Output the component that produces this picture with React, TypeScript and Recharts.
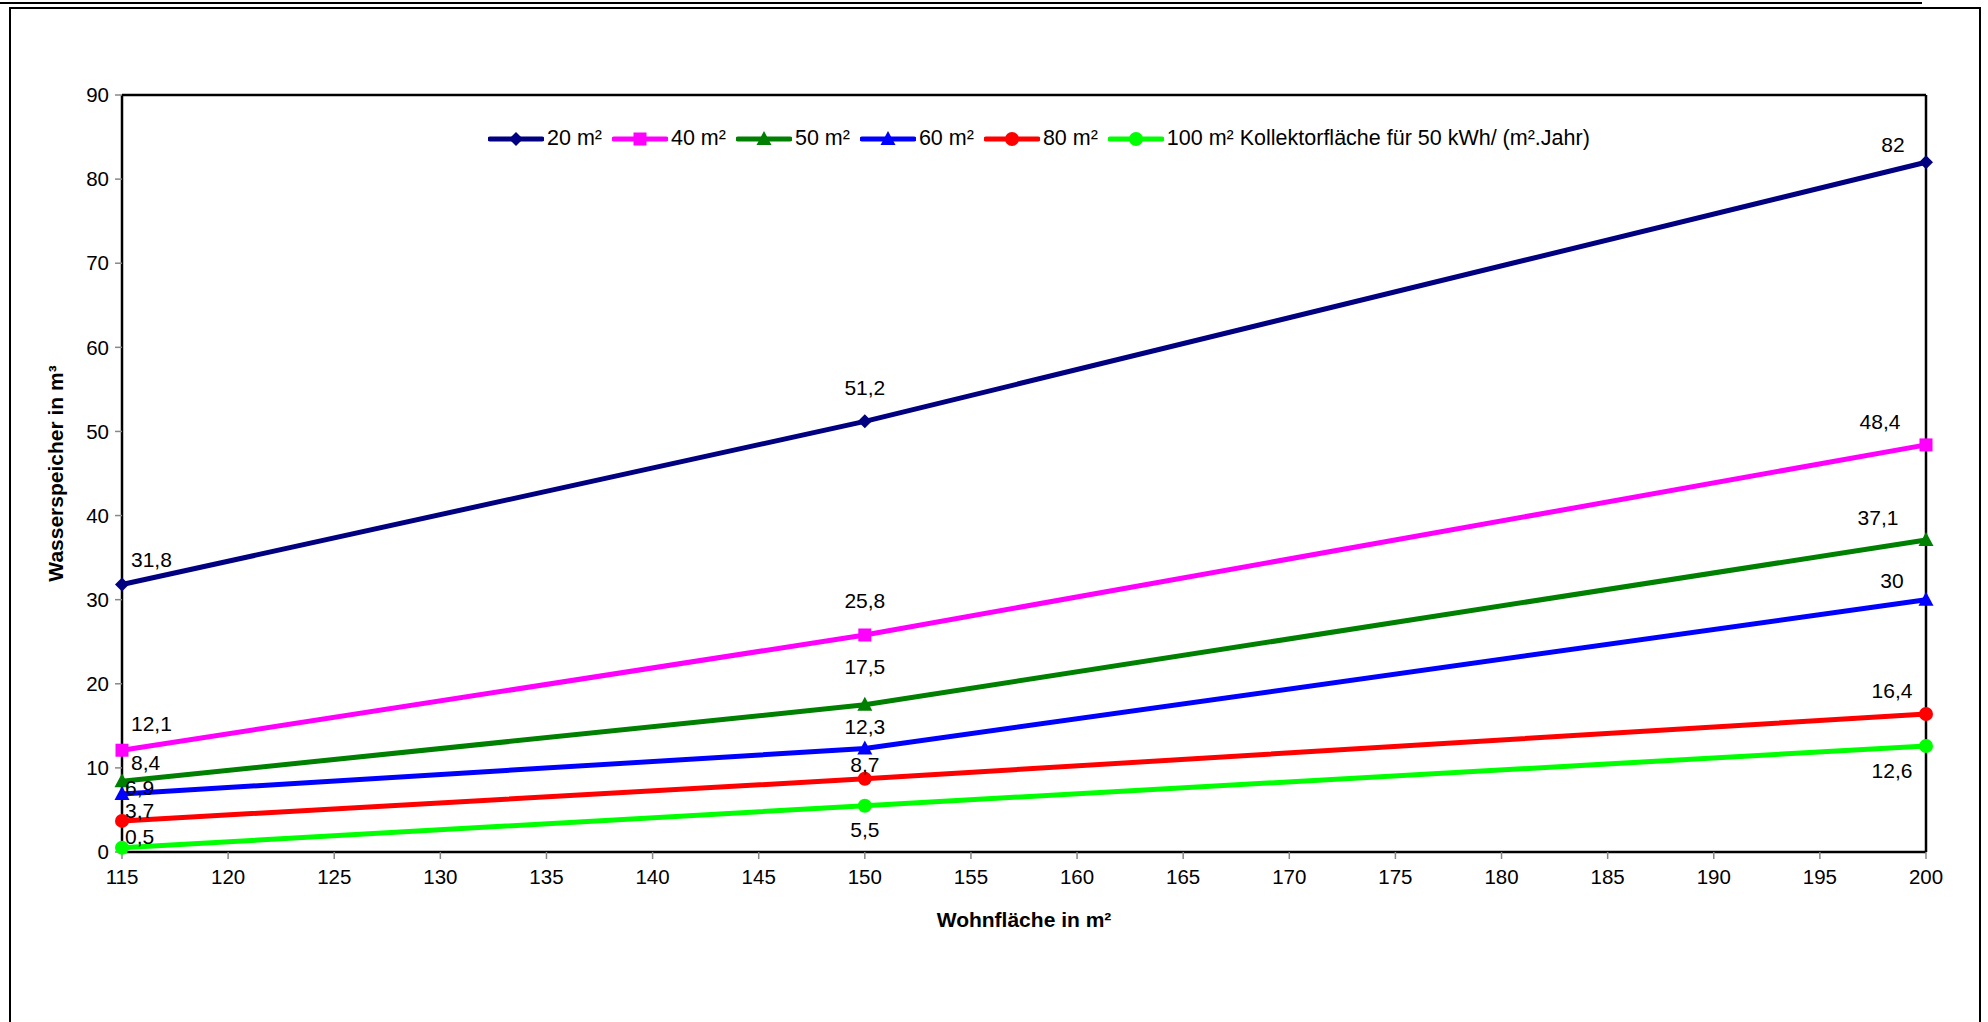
import React from "react"
import { LineChart, Line, XAxis, YAxis, ReferenceLine, LabelList } from "recharts"

// Wohnfläche in m²
const areas = [115, 150, 200]
const xTicks = [115, 120, 125, 130, 135, 140, 145, 150, 155, 160, 165, 170, 175, 180, 185, 190, 195, 200]
const yTicks = [0, 10, 20, 30, 40, 50, 60, 70, 80, 90]

// Wasserspeicher in m³ per Kollektorfläche
const s20 = [31.8, 51.2, 82]
const s40 = [12.1, 25.8, 48.4]
const s50 = [8.4, 17.5, 37.1]
const s60 = [6.9, 12.3, 30]
const s80 = [3.7, 8.7, 16.4]
const s100 = [0.5, 5.5, 12.6]

const seriesNames = ["20 m²", "40 m²", "50 m²", "60 m²", "80 m²", "100 m² Kollektorfläche für 50 kWh/ (m².Jahr)"]

const data = areas.map((x, i) => ({
  x,
  s20: s20[i],
  s40: s40[i],
  s50: s50[i],
  s60: s60[i],
  s80: s80[i],
  s100: s100[i],
}))

const FONT = "'Liberation Sans', Arial, sans-serif"

type Shape = "diamond" | "square" | "triangle" | "circle"
type Off = [number, number, "start" | "middle"]

const series: { key: string; name: string; color: string; shape: Shape; offs: Off[] }[] = [
  { key: "s20", name: seriesNames[0], color: "#000080", shape: "diamond", offs: [[9, -25, "start"], [0, -34, "middle"], [-33, -18, "middle"]] },
  { key: "s40", name: seriesNames[1], color: "#FF00FF", shape: "square", offs: [[9, -27, "start"], [0, -34, "middle"], [-46, -23, "middle"]] },
  { key: "s50", name: seriesNames[2], color: "#008000", shape: "triangle", offs: [[9, -19, "start"], [0, -38, "middle"], [-48, -22, "middle"]] },
  { key: "s60", name: seriesNames[3], color: "#0000FF", shape: "triangle", offs: [[3, -6, "start"], [0, -22, "middle"], [-34, -19, "middle"]] },
  { key: "s80", name: seriesNames[4], color: "#FF0000", shape: "circle", offs: [[3, -10, "start"], [0, -14, "middle"], [-34, -24, "middle"]] },
  { key: "s100", name: seriesNames[5], color: "#00FF00", shape: "circle", offs: [[3, -11, "start"], [0, 24, "middle"], [-34, 24, "middle"]] },
]

function Marker({ cx, cy, shape, color }: { cx: number; cy: number; shape: Shape; color: string }) {
  if (cx == null || cy == null) return null
  if (shape === "diamond")
    return <polygon points={`${cx},${cy - 7} ${cx + 7},${cy} ${cx},${cy + 7} ${cx - 7},${cy}`} fill={color} />
  if (shape === "square") return <rect x={cx - 6.5} y={cy - 6.5} width={13} height={13} fill={color} />
  if (shape === "triangle")
    return <polygon points={`${cx},${cy - 8} ${cx + 7.5},${cy + 6} ${cx - 7.5},${cy + 6}`} fill={color} />
  return <circle cx={cx} cy={cy} r={7} fill={color} />
}

function makeLabel(offs: Off[]) {
  return (props: any) => {
    const { x, y, value, index } = props
    const o = offs[index] || [0, -20, "middle"]
    return (
      <text x={x + o[0]} y={y + o[1]} textAnchor={o[2]} dominantBaseline="central" fontSize={21} fontFamily={FONT} fill="#000">
        {String(value).replace(".", ",")}
      </text>
    )
  }
}

function LegendBox() {
  return (
    <div style={{ position: "absolute", left: 488, top: 126, display: "flex", alignItems: "center", fontFamily: FONT, fontSize: 21.5, color: "#000", whiteSpace: "nowrap" }}>
      {series.map((s) => (
        <div key={s.key} style={{ display: "flex", alignItems: "center", marginRight: 10 }}>
          <svg width={56} height={22}>
            <line x1={2} y1={11} x2={54} y2={11} stroke={s.color} strokeWidth={5} strokeLinecap="round" />
            <Marker cx={28} cy={11} shape={s.shape} color={s.color} />
          </svg>
          <span style={{ marginLeft: 3 }}>{s.name}</span>
        </div>
      ))}
    </div>
  )
}

export default function App() {
  return (
    <div style={{ position: "absolute", left: 0, top: 0, width: 1988, height: 1022, background: "#fff", overflow: "hidden" }}>
      <div style={{ position: "absolute", left: 0, top: 2, width: 1922, height: 2, background: "#000" }} />
      <div style={{ position: "absolute", left: 9, top: 7, width: 1968, height: 1030, border: "2px solid #000" }} />
      <div style={{ position: "absolute", left: 0, top: 0 }}>
        <LineChart width={1988} height={1022} data={data} margin={{ top: 95, right: 62, bottom: 130, left: 52 }}>
          <XAxis
            dataKey="x"
            type="number"
            domain={[115, 200]}
            ticks={xTicks}
            interval={0}
            axisLine={{ stroke: "#000", strokeWidth: 2.5 }}
            tickLine={{ stroke: "#888", strokeWidth: 1.5 }}
            tickSize={7}
            tick={{ fill: "#000", fontSize: 20.5, fontFamily: FONT, dy: 8 }}
            height={40}
            label={{ value: "Wohnfläche in m²", position: "bottom", offset: 20, style: { fontWeight: "bold", fontSize: 21, fontFamily: FONT, fill: "#000" } }}
          />
          <YAxis
            type="number"
            domain={[0, 90]}
            ticks={yTicks}
            interval={0}
            axisLine={{ stroke: "#000", strokeWidth: 2.5 }}
            tickLine={{ stroke: "#888", strokeWidth: 1.5 }}
            tickSize={7}
            tick={{ fill: "#000", fontSize: 20.5, fontFamily: FONT, dx: -4 }}
            width={70}
            label={{ value: "Wasserspeicher in m³", angle: -90, position: "insideLeft", offset: 0, dx: 4, style: { textAnchor: "middle", fontWeight: "bold", fontSize: 21, fontFamily: FONT, fill: "#000" } }}
          />
          <ReferenceLine y={90} stroke="#000" strokeWidth={2.5} ifOverflow="extendDomain" />
          <ReferenceLine x={200} stroke="#000" strokeWidth={2.5} ifOverflow="extendDomain" />
          {series.map((s) => (
            <Line
              key={s.key}
              dataKey={s.key}
              name={s.name}
              stroke={s.color}
              strokeWidth={5}
              isAnimationActive={false}
              dot={(p: any) => <Marker key={`${s.key}-${p.index}`} cx={p.cx} cy={p.cy} shape={s.shape} color={s.color} />}
              activeDot={false}
            >
              <LabelList dataKey={s.key} content={makeLabel(s.offs)} />
            </Line>
          ))}
        </LineChart>
      </div>
      <LegendBox />
    </div>
  )
}
